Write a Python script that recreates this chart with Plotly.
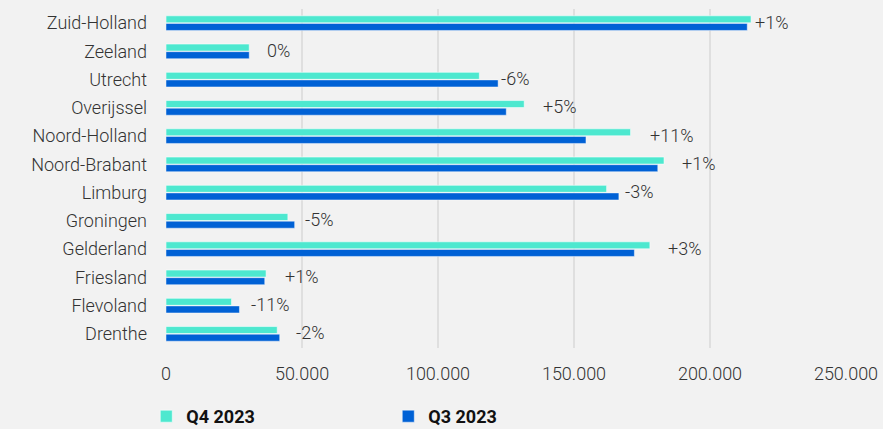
import plotly.graph_objects as go

provinces = ["Zuid-Holland", "Zeeland", "Utrecht", "Overijssel", "Noord-Holland",
             "Noord-Brabant", "Limburg", "Groningen", "Gelderland", "Friesland",
             "Flevoland", "Drenthe"]
q4_2023 = [215100, 30600, 115200, 131700, 170800, 183100, 162000, 44800, 177900, 36800, 24100, 40900]
q3_2023 = [213700, 30600, 122100, 125100, 154400, 180800, 166500, 47300, 172200, 36300, 27000, 41800]
change_labels = ["+1%", "0%", "-6%", "+5%", "+11%", "+1%", "-3%", "-5%", "+3%", "+1%", "-11%", "-2%"]
tick_vals = [0, 50000, 100000, 150000, 200000, 250000]
tick_text = ["0", "50.000", "100.000", "150.000", "200.000", "250.000"]

# label offsets (px) right of the longest bar
label_shift = [2, 16, 1, 17, 17, 16, 4, 8, 16, 17, 10, 14]

TEAL = "#4DE8CF"
BLUE = "#0061D5"
FONT = "Roboto"
FS = 18

fig = go.Figure()
fig.add_trace(go.Bar(
    y=provinces, x=q4_2023, orientation="h", name="Q4 2023",
    marker=dict(color=TEAL, line=dict(color="rgba(255,255,255,0.55)", width=1)),
    hoverinfo="x+y",
))
fig.add_trace(go.Bar(
    y=provinces, x=q3_2023, orientation="h", name="Q3 2023",
    marker=dict(color=BLUE, line=dict(color="rgba(255,255,255,0.45)", width=1)),
    hoverinfo="x+y",
))

for p, a, b, t, s in zip(provinces, q4_2023, q3_2023, change_labels, label_shift):
    fig.add_annotation(x=max(a, b), y=p, text=t, showarrow=False,
                       xanchor="left", yanchor="middle", xshift=s, yshift=1,
                       font=dict(family=FONT, size=FS, color="#333333", weight=300))

fig.update_layout(
    width=883, height=429,
    margin=dict(l=166, r=37, t=9, b=81, autoexpand=False),
    paper_bgcolor="#F2F2F2", plot_bgcolor="#F2F2F2",
    barmode="group", bargap=0.46, bargroupgap=0.08,
    font=dict(family=FONT, size=FS, color="#333333", weight=300),
    showlegend=True,
    legend=dict(orientation="h", x=-0.029, xanchor="left", y=-0.202, yanchor="middle",
                entrywidth=197, entrywidthmode="pixels",
                font=dict(family=FONT, size=18, color="#111111", weight="bold"),
                bgcolor="rgba(0,0,0,0)"),
)
fig.update_xaxes(range=[0, 250000], tickvals=tick_vals, ticktext=tick_text,
                 showgrid=True, gridcolor="#DFDFDF", gridwidth=1.5,
                 zeroline=False, showline=False, ticks="",
                 tickfont=dict(family=FONT, size=FS, color="#333333", weight=300),
                 ticklabelstandoff=13, fixedrange=True)
fig.update_yaxes(autorange="reversed", showgrid=False, zeroline=False, showline=False,
                 ticks="", ticklabelstandoff=18,
                 tickfont=dict(family=FONT, size=FS, color="#333333", weight=300),
                 fixedrange=True)

fig.write_html("out.html")
